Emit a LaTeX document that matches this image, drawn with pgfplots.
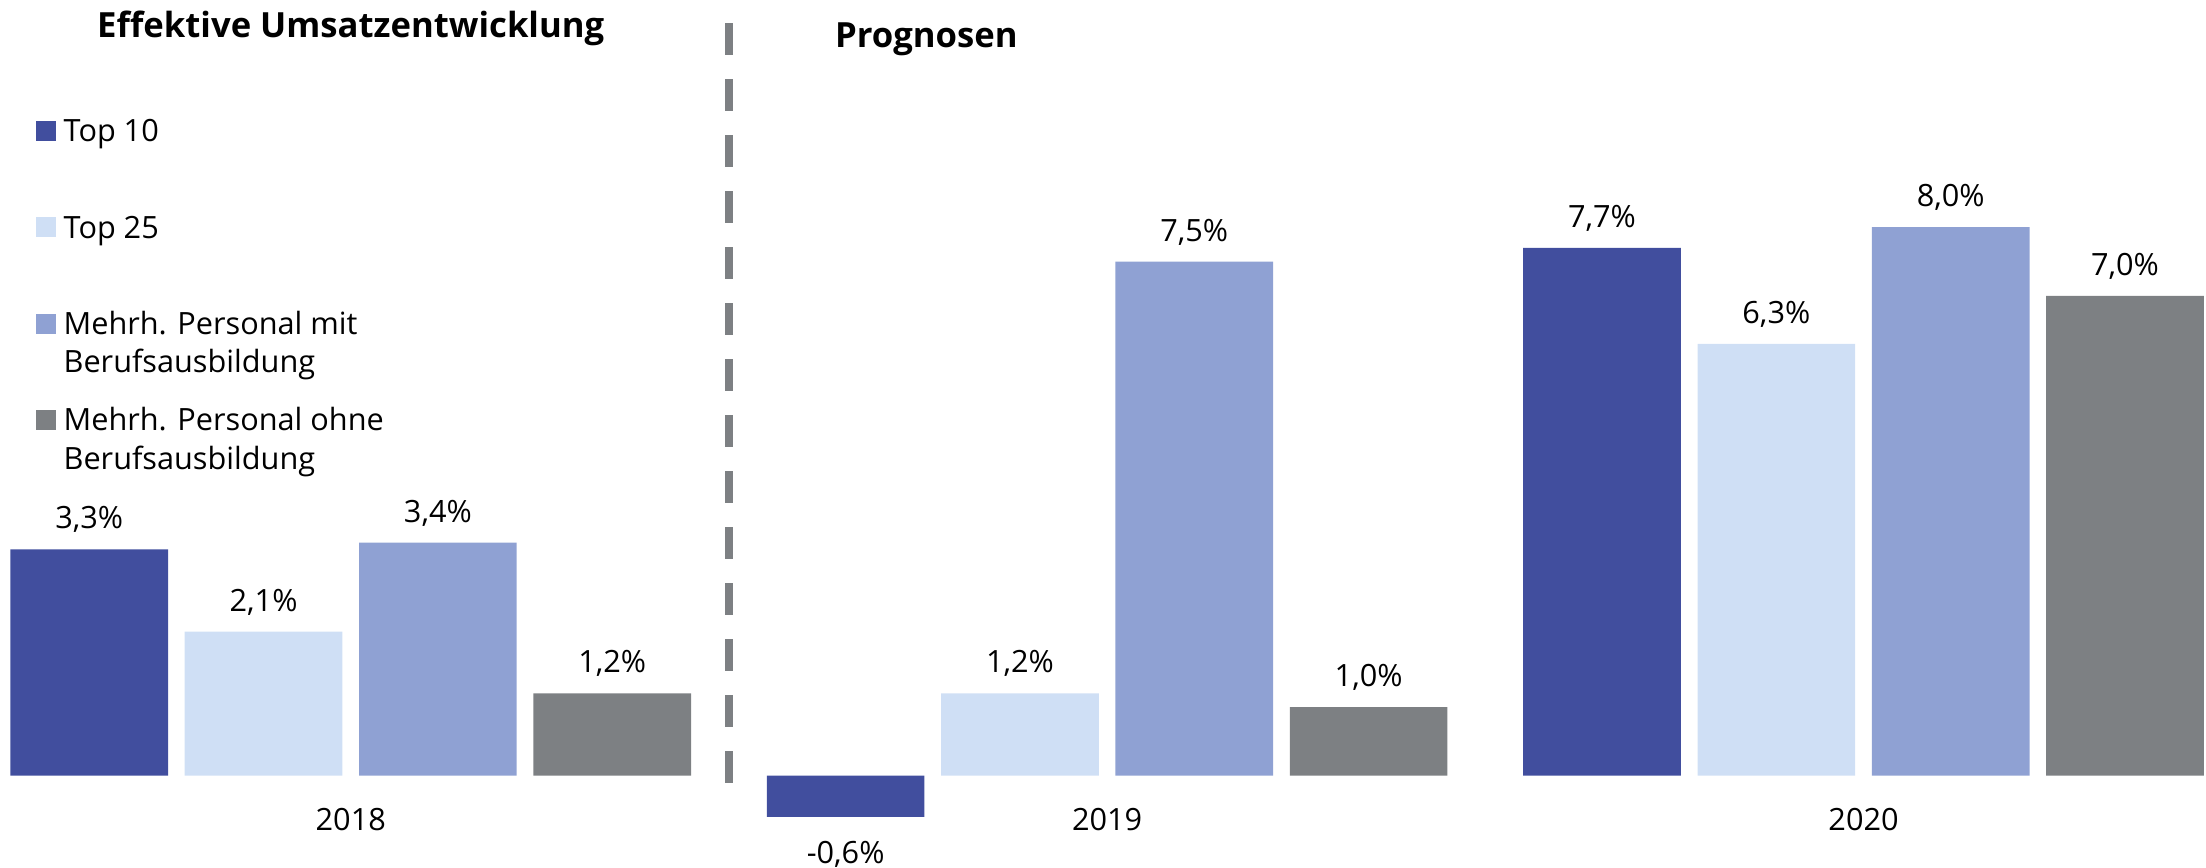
\documentclass[border=0pt]{standalone}
\usepackage{pgfplots}
\pgfplotsset{compat=1.18}
\usepackage{fontspec}
\setmainfont{Open Sans}
\definecolor{cA}{RGB}{65,78,158}
\definecolor{cB}{RGB}{207,223,245}
\definecolor{cC}{RGB}{143,161,211}
\definecolor{cD}{RGB}{125,128,131}
\definecolor{dashc}{RGB}{125,128,131}
\begin{document}
\begin{tikzpicture}
\begin{axis}[
  scale only axis,
  width=661.8pt, height=260.1pt,
  xmin=-0.4637, xmax=2.4528,
  ymin=-1.3377, ymax=11.310,
  clip=false,
  axis line style={draw=none},
  tick style={draw=none},
  major tick length=0pt, minor tick length=0pt,
  ytick=\empty,
  xtick={0,1,2},
  xticklabels={2018,2019,2020},
  xticklabel style={anchor=base, yshift=11.1pt, font=\fontsize{9.2}{11}\selectfont},
  /pgf/number format/assume math mode=true,
  ybar, bar width=47.3pt,
  nodes near coords={\pgfmathprintnumber[fixed,fixed zerofill,precision=1,use comma]{\pgfplotspointmeta}\%},
  visualization depends on={y \as \rawy},
  every node near coord/.append style={anchor=base, text=black, inner sep=0pt, text depth=0pt,
     font=\fontsize{9.2}{11}\selectfont,
     yshift={(\rawy<0) ? (-14.1) : (6.15)}},
  legend cell align=left,
  legend style={at={(axis description cs:0,1)}, anchor=north west, xshift=10.5pt, yshift=-34.3pt,
     draw=none, fill=none, inner sep=0pt, row sep=0pt, column sep=2.4pt,
     cells={anchor=base west},
     nodes={inner sep=0pt, text height=8pt, text depth=20.9pt, font=\fontsize{9.2}{11.4}\selectfont}},
  legend image code/.code={\fill[#1] (0pt,0.3pt) rectangle (6pt,6.3pt);},
]
\addplot[fill=cA, draw=none, bar shift=-78.45pt] coordinates {(0,3.3) (1,-0.6) (2,7.7)};
\addplot[fill=cB, draw=none, bar shift=-26.15pt] coordinates {(0,2.1) (1,1.2) (2,6.3)};
\addplot[fill=cC, draw=none, bar shift=26.15pt] coordinates {(0,3.4) (1,7.5) (2,8.0)};
\addplot[fill=cD, draw=none, bar shift=78.45pt] coordinates {(0,1.2) (1,1.0) (2,7.0)};
\legend{Top 10, Top 25,
  {\begin{tabular}[t]{@{}l@{}}Mehrh. Personal mit\\Berufsausbildung\end{tabular}},
  {\begin{tabular}[t]{@{}l@{}}Mehrh. Personal ohne\\Berufsausbildung\end{tabular}}}
\draw[dashc, line width=2.4pt, dash pattern=on 9.6pt off 7.2pt] (axis cs:0.5,10.975) -- (axis cs:0.5,-0.112);
\node[anchor=base, font=\fontsize{10.4}{12}\selectfont\bfseries] at (axis cs:0,10.766) {Effektive Umsatzentwicklung};
\node[anchor=base, font=\fontsize{10.4}{12}\selectfont\bfseries] at (axis cs:0.761,10.624) {Prognosen};
\path (rel axis cs:0,0) rectangle (rel axis cs:1,1);
\end{axis}
\end{tikzpicture}
\end{document}
